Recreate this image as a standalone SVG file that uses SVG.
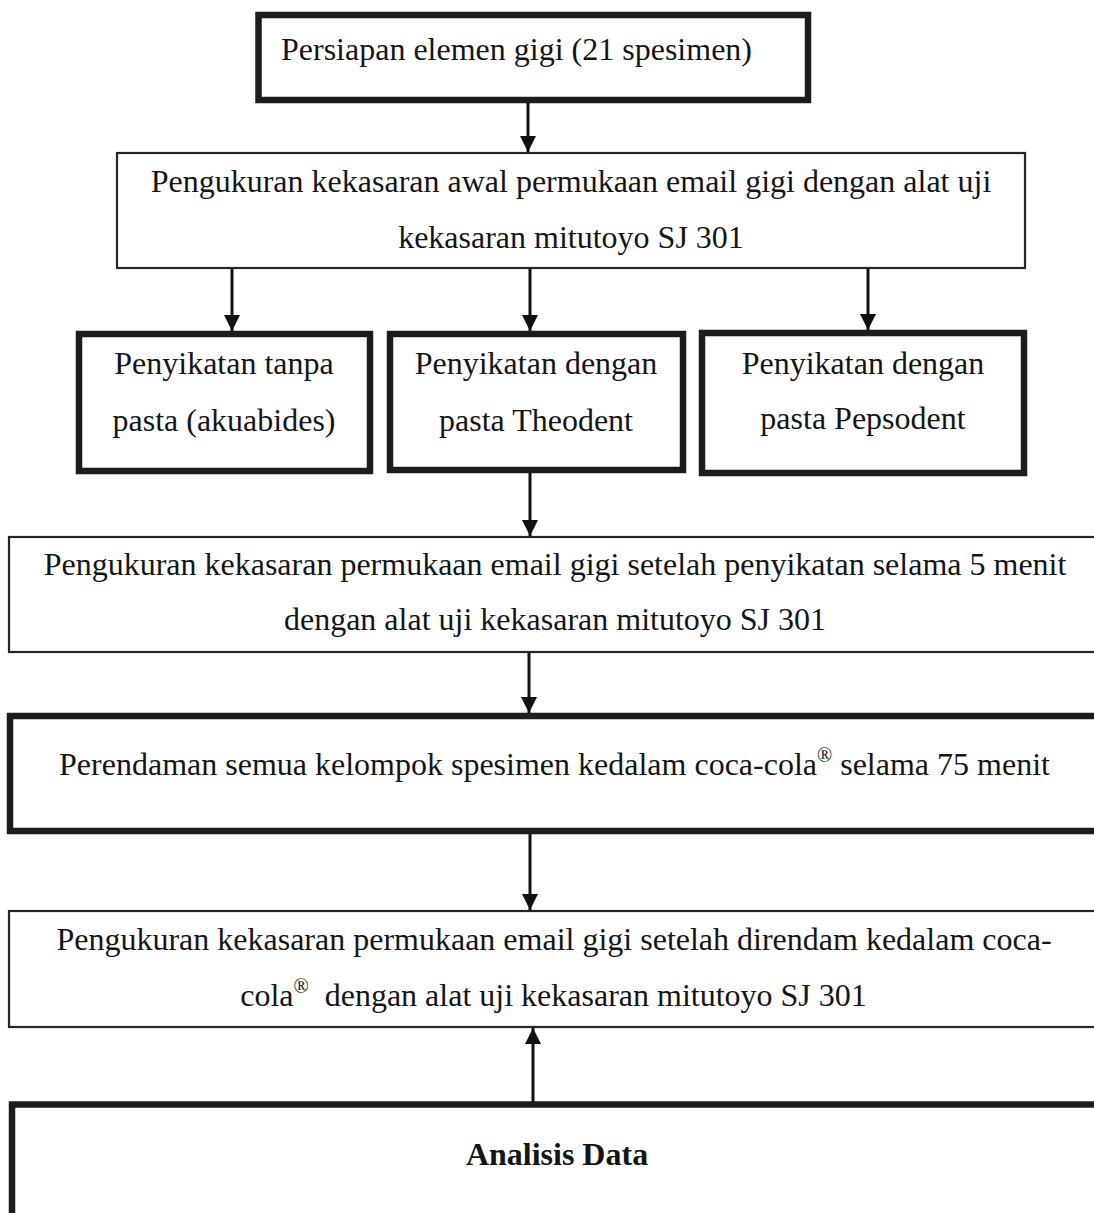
<svg xmlns="http://www.w3.org/2000/svg" width="1094" height="1213" viewBox="0 0 1094 1213">
<style>
.thin{fill:none;stroke:#262626;stroke-width:2.2}
.thick{fill:none;stroke:#1c1c1c;stroke-width:6.5}
.t{font-family:"Liberation Serif","Times New Roman",serif;font-size:32px;fill:#151515}
.c{text-anchor:middle}
.b{font-weight:bold}
.conn line{stroke:#111;stroke-width:3}
</style>
<defs>
<marker id="ah" viewBox="0 0 16 16" refX="16" refY="8" markerWidth="16" markerHeight="16" markerUnits="userSpaceOnUse" orient="auto">
<path d="M0,0 L16,8 L0,16 Z" fill="#111"/>
</marker>
</defs>
<rect width="1094" height="1213" fill="#ffffff"/>

<g id="n1">
<rect class="thick" x="258.5" y="15" width="549.5" height="85"/>
<text class="t" x="281" y="60">Persiapan elemen gigi (21 spesimen)</text>
</g>

<g id="n2">
<rect class="thin" x="117" y="153" width="908" height="115"/>
<text class="t c" x="571" y="192">Pengukuran kekasaran awal permukaan email gigi dengan alat uji</text>
<text class="t c" x="571" y="248">kekasaran mitutoyo SJ 301</text>
</g>

<g id="n3a">
<rect class="thick" x="79" y="334" width="291" height="137"/>
<text class="t c" x="224" y="374">Penyikatan tanpa</text>
<text class="t c" x="224" y="431">pasta (akuabides)</text>
</g>

<g id="n3b">
<rect class="thick" x="390" y="334" width="293" height="136"/>
<text class="t c" x="536" y="374">Penyikatan dengan</text>
<text class="t c" x="536" y="431">pasta Theodent</text>
</g>

<g id="n3c">
<rect class="thick" x="702" y="333" width="322" height="140"/>
<text class="t c" x="863" y="374">Penyikatan dengan</text>
<text class="t c" x="863" y="429">pasta Pepsodent</text>
</g>

<g id="n4">
<rect class="thin" x="9" y="537" width="1110" height="115"/>
<text class="t c" x="555" y="575">Pengukuran kekasaran permukaan email gigi setelah penyikatan selama 5 menit</text>
<text class="t c" x="555" y="630">dengan alat uji kekasaran mitutoyo SJ 301</text>
</g>

<g id="n5">
<rect class="thick" x="10" y="716" width="1110" height="115"/>
<text class="t c" x="554.5" y="775">Perendaman semua kelompok spesimen kedalam coca-cola<tspan font-size="20" dy="-13">®</tspan><tspan dy="13"> selama 75 menit</tspan></text>
</g>

<g id="n6">
<rect class="thin" x="9" y="911" width="1110" height="116"/>
<text class="t c" x="554" y="950">Pengukuran kekasaran permukaan email gigi setelah direndam kedalam coca-</text>
<text class="t c" x="553.5" y="1006" xml:space="preserve">cola<tspan font-size="20" dy="-13">®</tspan><tspan dy="13">  dengan alat uji kekasaran mitutoyo SJ 301</tspan></text>
</g>

<g id="n7">
<rect class="thick" x="12" y="1104.5" width="1110" height="150"/>
<text class="t c b" x="557" y="1165">Analisis Data</text>
</g>

<g id="connectors" class="conn">
<line x1="528" y1="103" x2="528" y2="152" marker-end="url(#ah)"/>
<line x1="232" y1="269" x2="232" y2="331" marker-end="url(#ah)"/>
<line x1="530" y1="269" x2="530" y2="331" marker-end="url(#ah)"/>
<line x1="868" y1="269" x2="868" y2="330" marker-end="url(#ah)"/>
<line x1="530" y1="473" x2="530" y2="536" marker-end="url(#ah)"/>
<line x1="529" y1="653" x2="529" y2="713" marker-end="url(#ah)"/>
<line x1="530" y1="834" x2="530" y2="910" marker-end="url(#ah)"/>
<line x1="533" y1="1102" x2="533" y2="1028" marker-end="url(#ah)"/>
</g>
</svg>
